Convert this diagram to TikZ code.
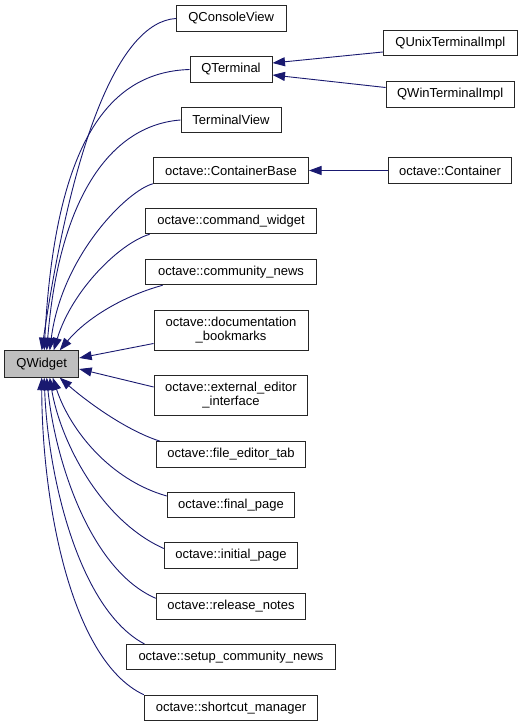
\documentclass[tikz,border=0pt]{standalone}
\usepackage{fontspec}
\setmainfont{Liberation Sans}
\usetikzlibrary{arrows.meta}
\definecolor{edgec}{HTML}{191970}
\definecolor{qwfill}{HTML}{BFBFBF}
\begin{document}
\begin{tikzpicture}[x=1pt,y=-1pt,
  box/.style={draw=black!85, line width=1pt, rectangle, inner sep=0pt, align=center,
    font=\fontsize{13}{14}\selectfont, minimum height=25.5pt},
  edge/.style={draw=edgec, line width=0.9pt, -{Triangle[length=12.5pt,width=9pt]}}]
\useasboundingbox (0,0) rectangle (523,727);
% nodes
\node[box, minimum width=109.5pt] (cv) at (231.25,18.5) {QConsoleView};
\node[box, minimum width=82pt] (qt) at (231,69.5) {QTerminal};
\node[box, minimum width=100pt] (tv) at (231,120) {TerminalView};
\node[box, minimum width=155pt] (cb) at (231,170.5) {octave::ContainerBase};
\node[box, minimum width=134pt] (ux) at (450.3,43) {QUnixTerminalImpl};
\node[box, minimum width=128.3pt] (wi) at (450.2,94.5) {QWinTerminalImpl};
\node[box, minimum width=123.4pt] (ct) at (450,170.5) {octave::Container};
\node[box, minimum width=171.7pt] (cw) at (231,221) {octave::command\_widget};
\node[box, minimum width=171.7pt] (cn) at (231,272) {octave::community\_news};
\node[box, minimum width=154pt, minimum height=39.6pt] (db) at (231,330.5) {octave::documentation\\\_bookmarks};
\node[box, minimum width=74pt, minimum height=26.3pt, fill=qwfill] (qw) at (41.7,364) {QWidget};
\node[box, minimum width=153.7pt, minimum height=40.4pt] (ee) at (231,395.5) {octave::external\_editor\\\_interface};
\node[box, minimum width=149.7pt] (fe) at (231,454.3) {octave::file\_editor\_tab};
\node[box, minimum width=127.4pt] (fp) at (231,505) {octave::final\_page};
\node[box, minimum width=133.4pt] (ip) at (231,555.5) {octave::initial\_page};
\node[box, minimum width=149.4pt] (rn) at (231,606.3) {octave::release\_notes};
\node[box, minimum width=209.4pt] (sc) at (231,657.2) {octave::setup\_community\_news};
\node[box, minimum width=173.4pt] (sm) at (231,708) {octave::shortcut\_manager};
% edges into QTerminal and ContainerBase
\draw[edge] ([yshift=-9pt]ux.west) -- ([yshift=6.5pt]qt.east);
\draw[edge] ([yshift=7pt]wi.west) -- ([yshift=-5.5pt]qt.east);
\draw[edge] (ct.west) -- (cb.east);
% edges into QWidget (top)
\draw[edge] (cv.west) .. controls (118,22) and (72,145) .. (qw.north);
\draw[edge] (qt.west) .. controls (110,72) and (55,140) .. ([xshift=2.5pt]qw.north);
\draw[edge] (tv.west) .. controls (115,125) and (60,190) .. ([xshift=5pt]qw.north);
\draw[edge] (cb.south west) .. controls (128,190) and (62,255) .. ([xshift=8pt]qw.north);
\draw[edge] ([xshift=5pt]cw.south west) .. controls (120,243) and (72,290) .. ([xshift=12pt]qw.north);
\draw[edge] ([xshift=18pt]cn.south west) .. controls (120,297) and (85,320) .. ([xshift=18pt]qw.north);
% right side
\draw[edge] ([yshift=-13pt]db.west) -- ([yshift=6pt]qw.east);
\draw[edge] ([yshift=8.5pt]ee.west) -- ([yshift=-5pt]qw.east);
% bottom
\draw[edge] ([xshift=4pt]fe.north west) .. controls (125,430) and (85,400) .. ([xshift=18pt]qw.south);
\draw[edge] ([yshift=9pt]fp.west) .. controls (110,480) and (70,430) .. ([xshift=11pt]qw.south);
\draw[edge] ([yshift=7pt]ip.west) .. controls (100,520) and (60,440) .. ([xshift=8pt]qw.south);
\draw[edge] ([yshift=8pt]rn.west) .. controls (90,570) and (55,460) .. ([xshift=5pt]qw.south);
\draw[edge] ([xshift=18.7pt]sc.north west) .. controls (80,610) and (48,480) .. ([xshift=2.5pt]qw.south);
\draw[edge] (sm.north west) .. controls (70,660) and (42,500) .. (qw.south);
\end{tikzpicture}
\end{document}
